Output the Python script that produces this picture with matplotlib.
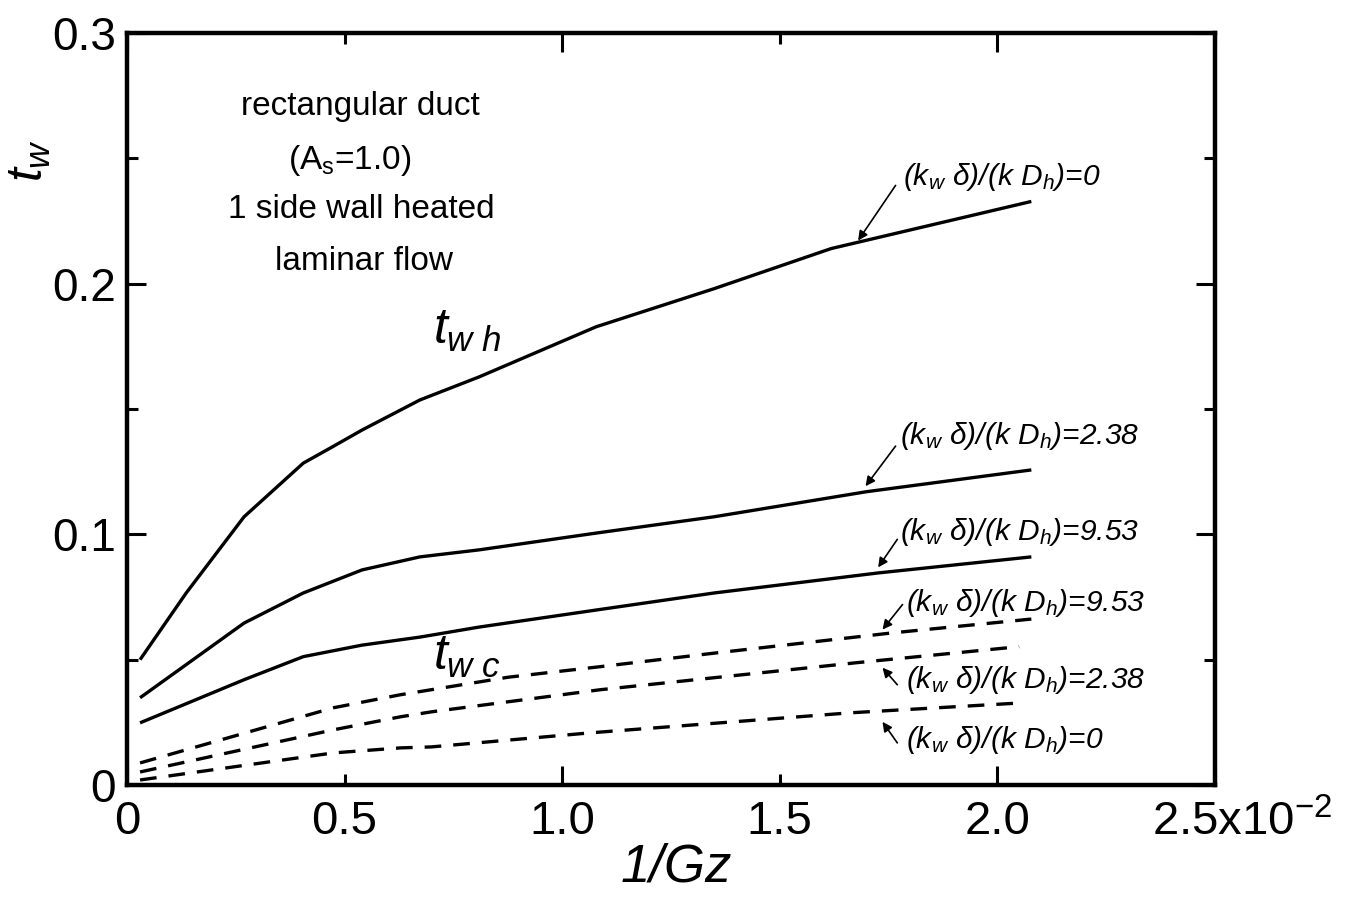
import matplotlib
matplotlib.use("Agg")
import matplotlib.pyplot as plt

plt.rcParams["font.family"] = ["Liberation Sans", "DejaVu Sans"]
plt.rcParams["mathtext.fontset"] = "custom"
plt.rcParams["mathtext.rm"] = "Liberation Sans"
plt.rcParams["mathtext.it"] = "Liberation Sans:italic"
plt.rcParams["mathtext.bf"] = "Liberation Sans:bold"

# wall temperature vs. inverse Graetz number (x in units of 1e-2)
# heated wall (solid): (kw*delta)/(k*Dh) = 0, 2.38, 9.53
x_h0 = [0.03, 0.136, 0.269, 0.405, 0.471, 0.540, 0.673, 0.809, 1.078,
        1.349, 1.618, 2.078]
t_h0 = [0.050, 0.0766, 0.107, 0.1284, 0.1348, 0.1416, 0.1536, 0.1628,
        0.1828, 0.198, 0.214, 0.2328]

x_h238 = [0.03, 0.269, 0.405, 0.540, 0.673, 0.809, 1.078, 1.349, 1.699, 2.078]
t_h238 = [0.0348, 0.0646, 0.0766, 0.0858, 0.091, 0.0938, 0.1005, 0.107,
          0.117, 0.1257]

x_h953 = [0.03, 0.269, 0.405, 0.540, 0.673, 0.809, 1.078, 1.349, 1.726, 2.078]
t_h953 = [0.0248, 0.042, 0.0512, 0.0558, 0.059, 0.063, 0.0698, 0.0766,
          0.0846, 0.091]

# cooled wall (dashed): (kw*delta)/(k*Dh) = 9.53, 2.38, 0
x_c953 = [0.03, 0.474, 0.628, 0.876, 1.087, 1.349, 1.754, 2.078]
t_c953 = [0.0088, 0.0308, 0.036, 0.043, 0.0472, 0.0526, 0.0606, 0.0662]

x_c238 = [0.03, 0.474, 0.628, 0.70, 1.087, 1.677, 2.05]
t_c238 = [0.0052, 0.022, 0.0272, 0.0292, 0.038, 0.0488, 0.0552]

x_c0 = [0.03, 0.474, 0.628, 0.70, 1.064, 1.662, 2.06]
t_c0 = [0.002, 0.0128, 0.0148, 0.0152, 0.0208, 0.0288, 0.0328]

x_major = [0.0, 1.0, 2.0]
x_major_labels = ["0", "1.0", "2.0"]
x_minor = [0.5, 1.5, 2.5]
x_minor_labels = ["0.5", "1.5", ""]
y_major = [0.0, 0.1, 0.2, 0.3]
y_major_labels = ["0", "0.1", "0.2", "0.3"]
y_minor = [0.05, 0.15, 0.25]

param_labels = ["0", "2.38", "9.53", "9.53", "2.38", "0"]
# label anchor (x, y), arrow tail, arrow head in data units
label_pos = [(1.784, 0.2424), (1.777, 0.1392), (1.777, 0.1008),
             (1.789, 0.0728), (1.789, 0.0420), (1.789, 0.0180)]
arrow_tail = [(1.766, 0.2392), (1.766, 0.1352), (1.770, 0.0980),
              (1.782, 0.0720), (1.770, 0.0400), (1.770, 0.0168)]
arrow_head = [(1.680, 0.2172), (1.697, 0.1192), (1.726, 0.0868),
              (1.736, 0.0620), (1.736, 0.0468), (1.736, 0.0252)]

W, H = 1354, 902
fig = plt.figure(figsize=(W / 100, H / 100), dpi=100)
ax = fig.add_axes([127 / W, (H - 785) / H, (1215 - 127) / W, (785 - 33) / H])

lw = 2.4
for xs, ys in [(x_h0, t_h0), (x_h238, t_h238), (x_h953, t_h953)]:
    ax.plot(xs, ys, color="black", lw=lw, solid_capstyle="butt",
            solid_joinstyle="round")
for xs, ys in [(x_c953, t_c953), (x_c238, t_c238), (x_c0, t_c0)]:
    ax.plot(xs, ys, color="black", lw=lw, linestyle=(0, (5.0, 3.6)))

ax.set_xlim(0, 2.5)
ax.set_ylim(0, 0.3)

ax.set_xticks(x_major, x_major_labels)
ax.set_xticks(x_minor, x_minor_labels, minor=True)
ax.set_yticks(y_major, y_major_labels)
ax.set_yticks(y_minor, minor=True)

ax.tick_params(which="both", direction="in", top=True, right=True,
               width=2.2, color="black")
ax.tick_params(which="major", length=14)
ax.tick_params(which="minor", length=8)
ax.tick_params(axis="x", which="both", labelsize=34, pad=11)
ax.tick_params(axis="y", which="both", labelsize=33, pad=8)

for s in ax.spines.values():
    s.set_linewidth(3.2)

# text block
info = [("rectangular duct", 360, 107),
        ("(A$_\\mathregular{s}$=1.0)", 350, 160),
        ("1 side wall heated", 361, 210),
        ("laminar flow", 364, 261)]
for txt, px, py in info:
    fig.text(px / W, 1 - py / H, txt, fontsize=24, ha="center", va="center")

ax.text(0.703, 0.176, r"$t_{w\ h}$", fontsize=36, ha="left", va="baseline")
ax.text(0.703, 0.046, r"$t_{w\ c}$", fontsize=36, ha="left", va="baseline")

for lab, lp, tl, hd in zip(param_labels, label_pos, arrow_tail, arrow_head):
    ax.text(lp[0], lp[1], "(k$_w$ δ)/(k D$_h$)=" + lab, fontsize=21.5,
            fontstyle="italic", ha="left", va="center")
    ax.annotate("", xy=hd, xytext=tl,
                arrowprops=dict(arrowstyle="-|>", lw=1.2, color="black",
                                mutation_scale=14, shrinkA=0, shrinkB=0))

fig.text(1152 / W, 1 - 800 / H, "2.5x10$^{-2}$", fontsize=34,
         ha="left", va="top")
fig.text(676 / W, 1 - 868 / H, "1/Gz", fontsize=38, fontstyle="italic",
         ha="center", va="center")
fig.text(30 / W, 1 - 160 / H, r"$t_w$", fontsize=36, rotation=90,
         ha="center", va="center")

fig.savefig("out.png", dpi=100, facecolor="white")
